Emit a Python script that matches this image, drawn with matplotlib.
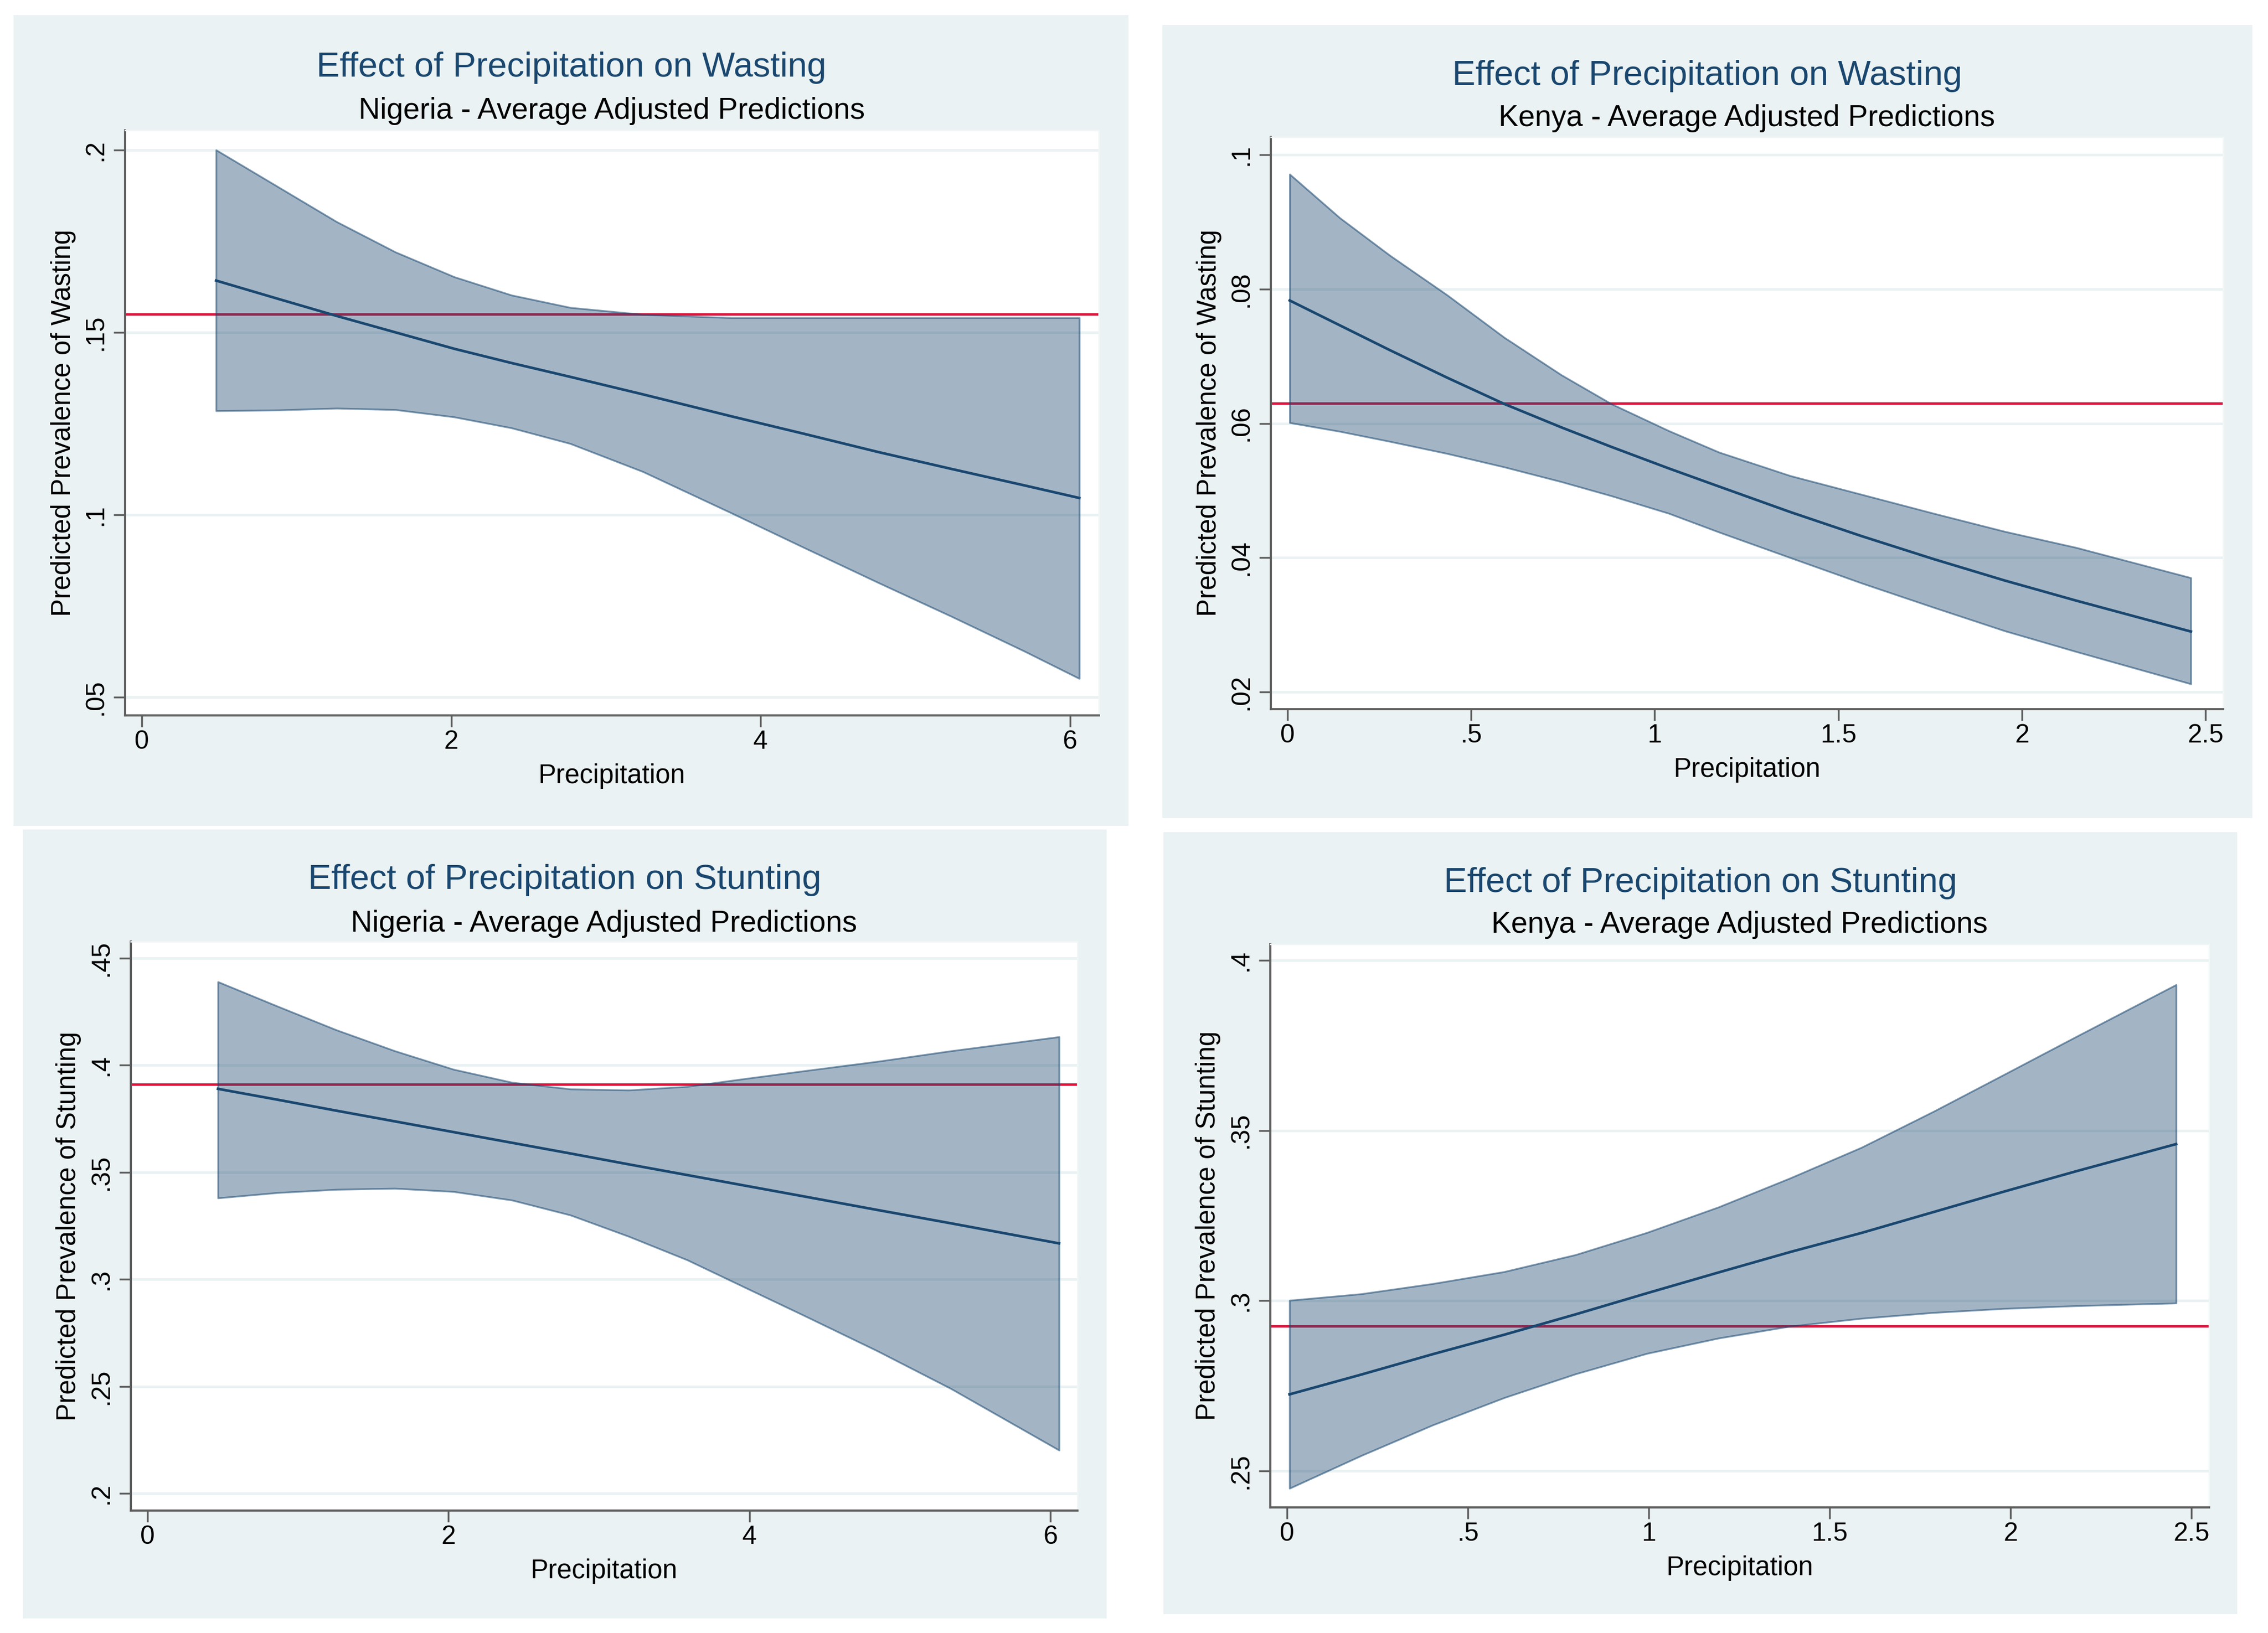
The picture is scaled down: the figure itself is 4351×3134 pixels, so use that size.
import matplotlib.pyplot as plt
from matplotlib.patches import Rectangle

plt.rcParams['font.family'] = ['Liberation Sans', 'DejaVu Sans']

W, H = 4351, 3134

# colours (Stata s2color look)
BG = '#eaf2f3'
NAVY = '#1a476f'
RED = '#dc143c'
AXIS = '#5e5e5e'

# ---------------- data ----------------
# Nigeria - wasting
ng_w_x = [0.48, 0.88, 1.26, 1.64, 2.02, 2.39, 2.77, 3.24, 3.81, 4.28, 4.76, 5.23, 5.70, 6.06]
ng_w_mean = [0.1642, 0.1592, 0.1545, 0.1500, 0.1455, 0.1416, 0.1378, 0.1330, 0.1270, 0.1222, 0.1172, 0.1126, 0.1081, 0.1046]
ng_w_upper = [0.2000, 0.1899, 0.1803, 0.1720, 0.1652, 0.1602, 0.1568, 0.1549, 0.1540, 0.1540, 0.1540, 0.1540, 0.1540, 0.1540]
ng_w_lower = [0.1285, 0.1287, 0.1292, 0.1288, 0.1268, 0.1238, 0.1195, 0.1118, 0.1005, 0.0910, 0.0814, 0.0722, 0.0627, 0.0551]
ng_w_ref = 0.155

# Kenya - wasting
ke_w_x = [0.006, 0.1425, 0.279, 0.435, 0.590, 0.746, 0.882, 1.038, 1.175, 1.369, 1.564, 1.759, 1.953, 2.148, 2.46]
ke_w_mean = [0.0783, 0.0746, 0.0709, 0.0668, 0.0629, 0.0594, 0.0565, 0.0533, 0.0506, 0.0468, 0.0432, 0.0398, 0.0366, 0.0336, 0.0290]
ke_w_upper = [0.0971, 0.0906, 0.0850, 0.0791, 0.0728, 0.0672, 0.0629, 0.0589, 0.0557, 0.0522, 0.0494, 0.0466, 0.0439, 0.0415, 0.0370]
ke_w_lower = [0.0601, 0.0588, 0.0573, 0.0555, 0.0535, 0.0513, 0.0492, 0.0466, 0.0438, 0.0400, 0.0362, 0.0326, 0.0291, 0.0260, 0.0212]
ke_w_ref = 0.063

# Nigeria - stunting
ng_s_x = [0.468, 0.866, 1.255, 1.644, 2.033, 2.422, 2.811, 3.200, 3.589, 3.977, 4.366, 4.852, 5.338, 6.058]
ng_s_mean = [0.3890, 0.3839, 0.3788, 0.3738, 0.3688, 0.3638, 0.3588, 0.3537, 0.3487, 0.3437, 0.3387, 0.3324, 0.3262, 0.3168]
ng_s_upper = [0.4390, 0.4275, 0.4165, 0.4067, 0.3981, 0.3920, 0.3889, 0.3884, 0.3901, 0.3938, 0.3974, 0.4018, 0.4067, 0.4133]
ng_s_lower = [0.3380, 0.3405, 0.3420, 0.3425, 0.3410, 0.3370, 0.3300, 0.3200, 0.3090, 0.2960, 0.2830, 0.2665, 0.2490, 0.2202]
ng_s_ref = 0.391

# Kenya - stunting
ke_s_x = [0.007, 0.205, 0.403, 0.600, 0.798, 0.995, 1.193, 1.391, 1.588, 1.786, 1.984, 2.181, 2.458]
ke_s_mean = [0.2725, 0.2783, 0.2843, 0.2900, 0.2960, 0.3022, 0.3083, 0.3143, 0.3199, 0.3260, 0.3321, 0.3380, 0.3460]
ke_s_upper = [0.3001, 0.3020, 0.3050, 0.3085, 0.3135, 0.3200, 0.3275, 0.3360, 0.3450, 0.3555, 0.3665, 0.3775, 0.3928]
ke_s_lower = [0.2449, 0.2545, 0.2635, 0.2715, 0.2785, 0.2845, 0.2890, 0.2925, 0.2948, 0.2965, 0.2977, 0.2985, 0.2993]
ke_s_ref = 0.2925

ticks_ng_x = [0, 2, 4, 6]
ticks_ke_x = [0, 0.5, 1, 1.5, 2, 2.5]
labels_ke_x = ['0', '.5', '1', '1.5', '2', '2.5']

panels = [
    dict(x=ng_w_x, mean=ng_w_mean, lo=ng_w_lower, hi=ng_w_upper, ref=ng_w_ref,
         title='Effect of Precipitation on Wasting',
         sub='Nigeria - Average Adjusted Predictions',
         ylabel='Predicted Prevalence of Wasting',
         xt=ticks_ng_x, xtl=['0', '2', '4', '6'],
         yt=[0.05, 0.1, 0.15, 0.2], ytl=['.05', '.1', '.15', '.2'],
         xlim=(-0.108, 6.186), ylim=(0.045, 0.2054),
         bg=(26, 29, 2165, 1585), box=(240, 250, 2108, 1373),
         tpos=(1096, 130), spos=(1174, 213)),
    dict(x=ke_w_x, mean=ke_w_mean, lo=ke_w_lower, hi=ke_w_upper, ref=ke_w_ref,
         title='Effect of Precipitation on Wasting',
         sub='Kenya - Average Adjusted Predictions',
         ylabel='Predicted Prevalence of Wasting',
         xt=ticks_ke_x, xtl=labels_ke_x,
         yt=[0.02, 0.04, 0.06, 0.08, 0.1], ytl=['.02', '.04', '.06', '.08', '.1'],
         xlim=(-0.0454, 2.548), ylim=(0.01744, 0.10264),
         bg=(2230, 48, 4321, 1570), box=(2438, 263, 4265, 1361),
         tpos=(3275, 146), spos=(3351, 227)),
    dict(x=ng_s_x, mean=ng_s_mean, lo=ng_s_lower, hi=ng_s_upper, ref=ng_s_ref,
         title='Effect of Precipitation on Stunting',
         sub='Nigeria - Average Adjusted Predictions',
         ylabel='Predicted Prevalence of Stunting',
         xt=ticks_ng_x, xtl=['0', '2', '4', '6'],
         yt=[0.2, 0.25, 0.3, 0.35, 0.4, 0.45], ytl=['.2', '.25', '.3', '.35', '.4', '.45'],
         xlim=(-0.111, 6.18), ylim=(0.192, 0.4578),
         bg=(44, 1592, 2123, 3106), box=(251, 1807, 2067, 2899),
         tpos=(1083, 1689), spos=(1159, 1773)),
    dict(x=ke_s_x, mean=ke_s_mean, lo=ke_s_lower, hi=ke_s_upper, ref=ke_s_ref,
         title='Effect of Precipitation on Stunting',
         sub='Kenya - Average Adjusted Predictions',
         ylabel='Predicted Prevalence of Stunting',
         xt=ticks_ke_x, xtl=labels_ke_x,
         yt=[0.25, 0.3, 0.35, 0.4], ytl=['.25', '.3', '.35', '.4'],
         xlim=(-0.0461, 2.549), ylim=(0.2393, 0.4047),
         bg=(2232, 1597, 4292, 3098), box=(2437, 1812, 4238, 2893),
         tpos=(3262, 1695), spos=(3337, 1775)),
]

fig = plt.figure(figsize=(W / 100, H / 100), dpi=100, facecolor='white')

for p in panels:
    # light bluish graph region
    bx0, by0, bx1, by1 = p['bg']
    fig.patches.append(Rectangle((bx0 / W, 1 - by1 / H), (bx1 - bx0) / W, (by1 - by0) / H,
                                 transform=fig.transFigure, facecolor=BG,
                                 edgecolor='none', zorder=-10))

    x0, y0, x1, y1 = p['box']
    ax = fig.add_axes([x0 / W, 1 - y1 / H, (x1 - x0) / W, (y1 - y0) / H])
    ax.set_facecolor('white')

    ax.axhline(p['ref'], color=RED, lw=3.4, zorder=1)
    ax.fill_between(p['x'], p['lo'], p['hi'], facecolor=(26/255, 71/255, 111/255, 0.40),
                    edgecolor=(26/255, 71/255, 111/255, 0.55), lw=2.4, zorder=2,
                    joinstyle='round')
    ax.plot(p['x'], p['mean'], color=NAVY, lw=3.6, zorder=3, solid_joinstyle='round')

    ax.set_xlim(*p['xlim'])
    ax.set_ylim(*p['ylim'])
    ax.set_xticks(p['xt'])
    ax.set_xticklabels(p['xtl'], fontsize=36)
    ax.set_yticks(p['yt'])
    ax.set_yticklabels(p['ytl'], fontsize=36, rotation=90, va='center')
    ax.tick_params(axis='both', length=15.5, width=2.5, color=AXIS)
    ax.tick_params(axis='x', pad=5)
    ax.tick_params(axis='y', pad=9)

    ax.grid(axis='y', color=BG, lw=3.6, zorder=0)
    ax.grid(axis='x', visible=False)
    ax.set_axisbelow(True)

    for side in ['left', 'bottom']:
        ax.spines[side].set_color(AXIS)
        ax.spines[side].set_linewidth(3)
    for side in ['top', 'right']:
        ax.spines[side].set_color('#f1f6f7')
        ax.spines[side].set_linewidth(2)

    axw = x1 - x0
    axh = y1 - y0
    ax.set_xlabel('Precipitation', fontsize=37)
    ax.xaxis.set_label_coords(0.5, -116 / axh)
    ax.xaxis.label.set_va('center')
    ax.set_ylabel(p['ylabel'], fontsize=37)
    ax.yaxis.set_label_coords(-119 / axw, 0.5)
    ax.yaxis.label.set_va('center')

    tx, ty = p['tpos']
    fig.text(tx / W, 1 - ty / H, p['title'], color=NAVY, fontsize=48,
             ha='center', va='center')
    sx, sy = p['spos']
    fig.text(sx / W, 1 - sy / H, p['sub'], color='black', fontsize=41,
             ha='center', va='center')

fig.savefig('out.png', dpi=100, facecolor='white')
